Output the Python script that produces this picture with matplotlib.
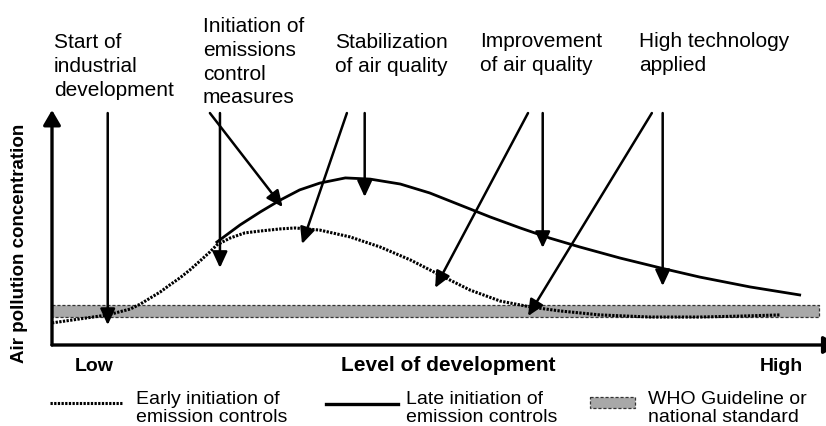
import matplotlib.pyplot as plt
from matplotlib.lines import Line2D
from matplotlib.patches import Rectangle

plt.rcParams['font.family'] = ['Liberation Sans', 'DejaVu Sans']

# Nivel de desarrollo (0-100) y concentracion (0-100)
early_x = [0.0, 3.6, 7.2, 10.1, 11.4, 12.7, 14.0, 15.2, 16.5, 17.8, 19.1, 20.4, 21.3,
           23.0, 24.9, 26.9, 29.5, 31.4, 34.6, 38.5, 42.4, 46.3, 50.1, 54.0, 57.9,
           61.8, 65.6, 70.8, 77.3, 83.7, 88.9, 94.1]
early_y = [9.4, 11.1, 12.8, 15.3, 17.4, 20.0, 22.6, 25.5, 28.5, 31.9, 35.7, 39.6, 42.6,
           45.5, 47.7, 48.5, 49.4, 49.8, 48.9, 46.0, 41.7, 36.2, 29.8, 23.4, 18.7,
           16.2, 14.5, 12.8, 11.9, 11.9, 12.3, 12.8]

late_x = [21.3, 24.3, 26.9, 29.5, 32.0, 34.6, 37.9, 41.1, 45.0, 48.8, 52.7, 56.6,
          60.5, 64.3, 68.2, 73.4, 78.6, 83.7, 90.2, 96.6]
late_y = [43.8, 51.1, 56.6, 61.7, 66.0, 68.9, 71.1, 70.6, 68.5, 64.7, 59.6, 54.5,
          49.8, 45.5, 41.7, 37.0, 32.8, 28.9, 24.7, 21.3]

# Banda de la guia OMS
band_x = [0.0, 99.1]
band_low = 11.9
band_high = 17.0

# Flechas: (x inicio, y inicio, x punta, y punta)
arrow_top = 98.7
arrows = [
    (7.2, arrow_top, 7.2, 8.5),
    (21.7, arrow_top, 21.7, 32.8),
    (20.4, arrow_top, 29.8, 58.7),
    (38.1, arrow_top, 32.3, 43.0),
    (40.4, arrow_top, 40.4, 63.0),
    (61.5, arrow_top, 49.5, 24.3),
    (63.4, arrow_top, 63.4, 41.3),
    (77.5, arrow_top, 61.5, 12.3),
    (78.9, arrow_top, 78.9, 25.1),
]

stage_labels = ['Start of\nindustrial\ndevelopment',
                'Initiation of\nemissions\ncontrol\nmeasures',
                'Stabilization\nof air quality',
                'Improvement\nof air quality',
                'High technology\napplied']
stage_pos = [(54, 33), (203, 17), (335, 33), (480, 32), (639, 32)]  # pixeles

legend_labels = ['Early initiation of\nemission controls',
                 'Late initiation of\nemission controls',
                 'WHO Guideline or\nnational standard']

W, H = 826, 426
fig = plt.figure(figsize=(W / 100, H / 100), dpi=100)
ax = fig.add_axes([52 / W, 1 - 345 / H, 774 / W, 235 / H])
ax.set_xlim(0, 100)
ax.set_ylim(0, 100)
ax.axis('off')

dotted = (0, (0.75, 0.45))
band_edge = (0, (2.5, 1.5))

ax.fill_between(band_x, band_low, band_high, facecolor='#a8a8a8',
                edgecolor='#333333', linestyle=band_edge, linewidth=0.9, zorder=1)
ax.plot(early_x, early_y, color='black', lw=2.2, linestyle=dotted, zorder=2)
ax.plot(late_x, late_y, color='black', lw=2.0, zorder=2)

for x0, y0, x1, y1 in arrows:
    ax.annotate('', xy=(x1, y1), xytext=(x0, y0),
                arrowprops=dict(arrowstyle='-|>,head_length=0.65,head_width=0.3',
                                lw=1.8, color='black', shrinkA=0, shrinkB=0,
                                mutation_scale=15), zorder=3)

# ejes con flecha
axis_props = dict(arrowstyle='-|>,head_length=0.6,head_width=0.35', lw=2.4,
                  color='black', shrinkA=0, shrinkB=0, mutation_scale=15)
ax.annotate('', xy=(0, 100), xytext=(0, 0), arrowprops=axis_props, annotation_clip=False)
ax.annotate('', xy=(101.6, 0), xytext=(0, 0), arrowprops=axis_props, annotation_clip=False)

# capa en pixeles para textos y leyenda
lay = fig.add_axes([0, 0, 1, 1])
lay.set_xlim(0, W)
lay.set_ylim(H, 0)
lay.axis('off')
lay.patch.set_visible(False)

for txt, (px, py) in zip(stage_labels, stage_pos):
    lay.text(px, py, txt, fontsize=15, ha='left', va='top', linespacing=1.32)

lay.text(20, 243, 'Air pollution concentration', rotation=90, fontsize=13.5,
         fontweight='bold', ha='center', va='center')
lay.text(75, 371, 'Low', fontsize=14, fontweight='bold', ha='left', va='baseline')
lay.text(448, 371, 'Level of development', fontsize=15, fontweight='bold',
         ha='center', va='baseline')
lay.text(803, 371, 'High', fontsize=14, fontweight='bold', ha='right', va='baseline')

# leyenda
lay.add_line(Line2D([50, 123], [403, 403], color='black', lw=2.2, linestyle=dotted))
lay.add_line(Line2D([326, 398], [404, 404], color='black', lw=2.4))
lay.add_patch(Rectangle((590, 397), 45, 11, facecolor='#a8a8a8', edgecolor='#333333',
                        linestyle=band_edge, linewidth=0.9))
for txt, px in zip(legend_labels, [136, 406, 648]):
    lay.text(px, 422, txt, fontsize=14, ha='left', va='baseline', linespacing=1.1)

fig.savefig('out.png', dpi=100)
